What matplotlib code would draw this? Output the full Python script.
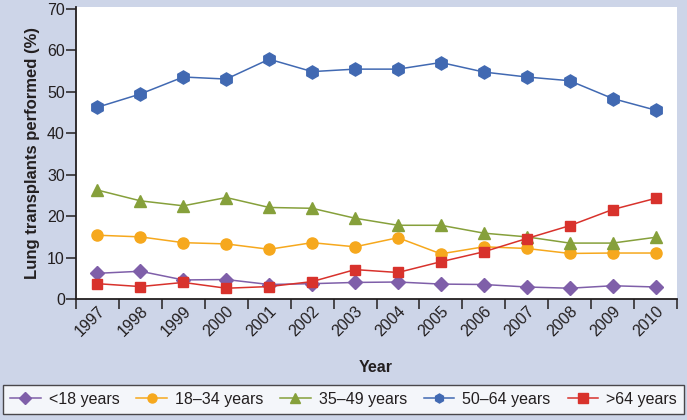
import matplotlib
matplotlib.use("Agg")
import matplotlib.pyplot as plt
import matplotlib.transforms as mtransforms

plt.rcParams['font.family'] = ['Liberation Sans', 'DejaVu Sans']

years = ['1997', '1998', '1999', '2000', '2001', '2002', '2003',
         '2004', '2005', '2006', '2007', '2008', '2009', '2010']
under_18 = [6.2, 6.7, 4.6, 4.7, 3.5, 3.7, 4.0, 4.1, 3.6, 3.5, 2.9, 2.6, 3.2, 2.9]
age_18_34 = [15.4, 15.0, 13.6, 13.3, 12.0, 13.6, 12.6, 14.8, 10.9, 12.6, 12.2, 11.0, 11.1, 11.1]
age_35_49 = [26.3, 23.7, 22.5, 24.5, 22.1, 21.9, 19.5, 17.8, 17.8, 15.9, 15.0, 13.5, 13.5, 14.9]
age_50_64 = [46.3, 49.5, 53.6, 53.1, 57.9, 54.9, 55.5, 55.5, 57.1, 54.8, 53.6, 52.7, 48.4, 45.6]
over_64 = [3.7, 3.0, 4.0, 2.6, 3.0, 4.2, 7.1, 6.4, 9.0, 11.4, 14.6, 17.7, 21.6, 24.3]

series = [
    ('<18 years', under_18, '#7f5fa9', 'D', 7.5),
    ('18\u201334 years', age_18_34, '#f6a81d', 'o', 8),
    ('35\u201349 years', age_35_49, '#86a03b', '^', 8),
    ('50\u201364 years', age_50_64, '#4169b2', 'h', 9.5),
    ('>64 years', over_64, '#d8322c', 's', 7.5),
]

bg = '#cdd5e8'
txt = '#231f20'

fig = plt.figure(figsize=(6.87, 4.2), dpi=100, facecolor=bg)
ax = fig.add_axes([76 / 687, 1 - 299 / 420, 601 / 687, 292 / 420])
ax.set_facecolor('white')

x = list(range(len(years)))
for label, vals, color, marker, ms in series:
    ax.plot(x, vals, color=color, marker=marker, markersize=ms, linewidth=1.1,
            markeredgecolor=color, label=label)

ax.set_xlim(-0.5, len(years) - 0.5)
ax.set_ylim(0, 70.5)
ax.set_yticks(range(0, 71, 10))
ax.set_xticks(x)
ax.set_xticklabels(years, rotation=45, ha='right', rotation_mode='anchor')
# push labels right so they sit like the original (end near the category centre)
shift = mtransforms.ScaledTranslation(13 / 100, 0, fig.dpi_scale_trans)
for lab in ax.get_xticklabels():
    lab.set_transform(lab.get_transform() + shift)
ax.set_xticks([i - 0.5 for i in range(len(years) + 1)], minor=True)
ax.tick_params(axis='x', which='major', length=0, pad=3, labelsize=11.5, colors=txt)
ax.tick_params(axis='x', which='minor', length=7, width=1.1, color=txt, direction='out')
ax.tick_params(axis='y', length=7, width=1.1, labelsize=11.5, colors=txt, pad=1)

for s in ['top', 'right']:
    ax.spines[s].set_visible(False)
for s in ['left', 'bottom']:
    ax.spines[s].set_color(txt)
    ax.spines[s].set_linewidth(1.3)

ax.set_ylabel('Lung transplants performed (%)', fontsize=12, fontweight='bold', color=txt, labelpad=5)
fig.text(376 / 687, 1 - 367 / 420, 'Year', ha='center', va='center',
         fontsize=11.5, fontweight='bold', color=txt)

leg = fig.legend(loc='lower left', bbox_to_anchor=(3 / 687, 6 / 420, 681 / 687, 30 / 420),
                 ncol=5, mode='expand', frameon=True, fancybox=False,
                 fontsize=11.5, handlelength=1.9, borderaxespad=0, handletextpad=0.5,
                 borderpad=0.45, labelcolor=txt)
leg.get_frame().set_edgecolor(txt)
leg.get_frame().set_linewidth(1.0)
leg.get_frame().set_facecolor('white')
for ln in leg.get_lines():
    ln.set_markersize(6.5)

fig.savefig('out.png', dpi=100, facecolor=bg)
